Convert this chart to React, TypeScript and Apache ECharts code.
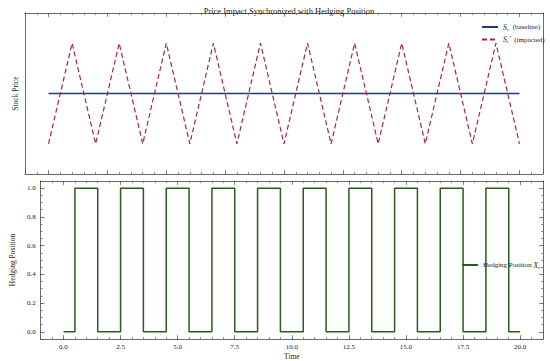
import React, { useEffect, useRef } from "react";
import * as echarts from "echarts";

const priceTimes = [0, 1, 2, 3, 4, 5, 6, 7, 8, 9, 10, 11, 12, 13, 14, 15, 16, 17, 18, 19, 20];
const baselinePrice = [100, 100, 100, 100, 100, 100, 100, 100, 100, 100, 100, 100, 100, 100, 100, 100, 100, 100, 100, 100, 100];
const impactedPrice = [95, 105, 95, 105, 95, 105, 95, 105, 95, 105, 95, 105, 95, 105, 95, 105, 95, 105, 95, 105, 95];
const hedgeTimes = [0, 0.5, 1.5, 2.5, 3.5, 4.5, 5.5, 6.5, 7.5, 8.5, 9.5, 10.5, 11.5, 12.5, 13.5, 14.5, 15.5, 16.5, 17.5, 18.5, 19.5, 20];
const hedgeValues = [0, 1, 0, 1, 0, 1, 0, 1, 0, 1, 0, 1, 0, 1, 0, 1, 0, 1, 0, 1, 0, 0];
const xTicks = [0, 2.5, 5, 7.5, 10, 12.5, 15, 17.5, 20];
const yTicks = [0, 0.2, 0.4, 0.6, 0.8, 1.0];

const xMinor: number[] = [];
for (let i = -2; i <= 42; i++) xMinor.push(i * 0.5);
const yMinor: number[] = [];
for (let i = -1; i <= 21; i++) yMinor.push(Math.round(i * 5) / 100);

const FONT = "Liberation Serif";
const FRAME = "#444";
const TXT = "#222";

const rich = {
  i: { fontFamily: FONT, fontStyle: "italic", fontSize: 7.5, color: TXT },
  s: { fontFamily: FONT, fontStyle: "italic", fontSize: 5, color: TXT, padding: [4, 1, 0, 0] },
};

export default function App() {
  const ref = useRef<HTMLDivElement>(null);
  useEffect(() => {
    if (!ref.current) return;
    const chart = echarts.init(ref.current, null, { renderer: "svg" });
    const baseX = (grid: number, pos: "top" | "bottom", ticks: number[], len: number, showLine: boolean, labels: boolean, name?: string) => ({
      type: "value",
      gridIndex: grid,
      position: pos,
      min: -1,
      max: 21,
      name: name,
      nameLocation: "middle",
      nameGap: 13,
      nameTextStyle: { fontFamily: FONT, fontSize: 7.5, color: TXT },
      axisLine: { show: showLine, onZero: false, lineStyle: { color: FRAME, width: 0.8 } },
      axisTick: { show: true, inside: true, length: len, customValues: ticks, lineStyle: { color: FRAME, width: 0.6 } },
      axisLabel: labels
        ? { show: true, customValues: xTicks, fontFamily: FONT, fontSize: 7, color: TXT, margin: 4, formatter: (v: number) => v.toFixed(1) }
        : { show: false },
      splitLine: { show: false },
    });
    const baseY = (grid: number, pos: "left" | "right", min: number, max: number, ticks: number[] | null, len: number, showLine: boolean, labels: boolean, name?: string, gap?: number) => ({
      type: "value",
      gridIndex: grid,
      position: pos,
      min,
      max,
      name: name,
      nameLocation: "middle",
      nameGap: gap ?? 10,
      nameTextStyle: { fontFamily: FONT, fontSize: 7.5, color: TXT },
      axisLine: { show: showLine, onZero: false, lineStyle: { color: FRAME, width: 0.8 } },
      axisTick: ticks
        ? { show: true, inside: true, length: len, customValues: ticks, lineStyle: { color: FRAME, width: 0.6 } }
        : { show: false },
      axisLabel: labels
        ? { show: true, customValues: yTicks, fontFamily: FONT, fontSize: 7, color: TXT, margin: 5, formatter: (v: number) => v.toFixed(1) }
        : { show: false },
      splitLine: { show: false },
    });
    const option: any = {
      animation: false,
      backgroundColor: "#fff",
      title: {
        text: "Price Impact Synchronized with Hedging Position",
        left: 284,
        textAlign: "center",
        top: 1,
        textStyle: { fontFamily: FONT, fontSize: 8.5, fontWeight: "normal", color: TXT },
      },
      grid: [
        { left: 25, top: 13, width: 518, height: 161 },
        { left: 25, top: 181, width: 518, height: 160 },
      ],
      xAxis: [
        baseX(0, "bottom", xTicks, 4, true, false),
        baseX(0, "top", xTicks, 4, true, false),
        baseX(1, "bottom", xTicks, 4, true, true, "Time"),
        baseX(1, "top", xTicks, 4, true, false),
        baseX(0, "bottom", xMinor, 2, false, false),
        baseX(0, "top", xMinor, 2, false, false),
        baseX(1, "bottom", xMinor, 2, false, false),
        baseX(1, "top", xMinor, 2, false, false),
      ],
      yAxis: [
        baseY(0, "left", 92, 108, null, 0, true, false, "Stock Price", 6),
        baseY(0, "right", 92, 108, null, 0, true, false),
        baseY(1, "left", -0.05, 1.05, yTicks, 4, true, true, "Hedging Position", 16),
        baseY(1, "right", -0.05, 1.05, yTicks, 4, true, false),
        baseY(1, "left", -0.05, 1.05, yMinor, 2, false, false),
        baseY(1, "right", -0.05, 1.05, yMinor, 2, false, false),
      ],
      legend: [
        {
          data: ["S_t (baseline)", "S_t' (impacted)"],
          orient: "vertical",
          left: 476,
          top: 18,
          itemWidth: 16,
          itemHeight: 6,
          itemGap: 4,
          itemStyle: { opacity: 0, borderWidth: 0 },
          formatter: (n: string) => (n.startsWith("S_t'") ? "{i|S}{s|t}{i|′}  (impacted) " : "{i|S}{s|t}  (baseline) "),
          textStyle: { fontFamily: FONT, fontSize: 7, color: TXT, rich },
        },
        {
          data: ["Hedging Position X_t"],
          left: 456,
          top: 256,
          itemWidth: 16,
          itemHeight: 6,
          itemGap: 3,
          itemStyle: { opacity: 0, borderWidth: 0 },
          formatter: () => "Hedging Position {i|X}{s|t}  ",
          textStyle: { fontFamily: FONT, fontSize: 7, color: TXT, rich },
        },
      ],
      series: [
        {
          name: "S_t (baseline)",
          type: "line",
          xAxisIndex: 0,
          yAxisIndex: 0,
          symbol: "none",
          data: priceTimes.map((t, i) => [t, baselinePrice[i]]),
          lineStyle: { color: "#1f3a78", width: 1.6 },
          itemStyle: { color: "#1f3a78" },
        },
        {
          name: "S_t' (impacted)",
          type: "line",
          xAxisIndex: 0,
          yAxisIndex: 0,
          symbol: "none",
          data: priceTimes.map((t, i) => [t, impactedPrice[i]]),
          lineStyle: { color: "#a3283f", width: 1.2, type: [5, 3] },
          itemStyle: { color: "#a3283f" },
        },
        {
          name: "Hedging Position X_t",
          type: "line",
          xAxisIndex: 2,
          yAxisIndex: 2,
          symbol: "none",
          step: "end",
          data: hedgeTimes.map((t, i) => [t, hedgeValues[i]]),
          lineStyle: { color: "#2b5a1c", width: 1.5 },
          itemStyle: { color: "#2b5a1c" },
        },
      ],
    };
    chart.setOption(option);
    return () => chart.dispose();
  }, []);
  return <div ref={ref} style={{ position: "fixed", left: 0, top: 0, width: 550, height: 361, background: "#fff" }} />;
}
